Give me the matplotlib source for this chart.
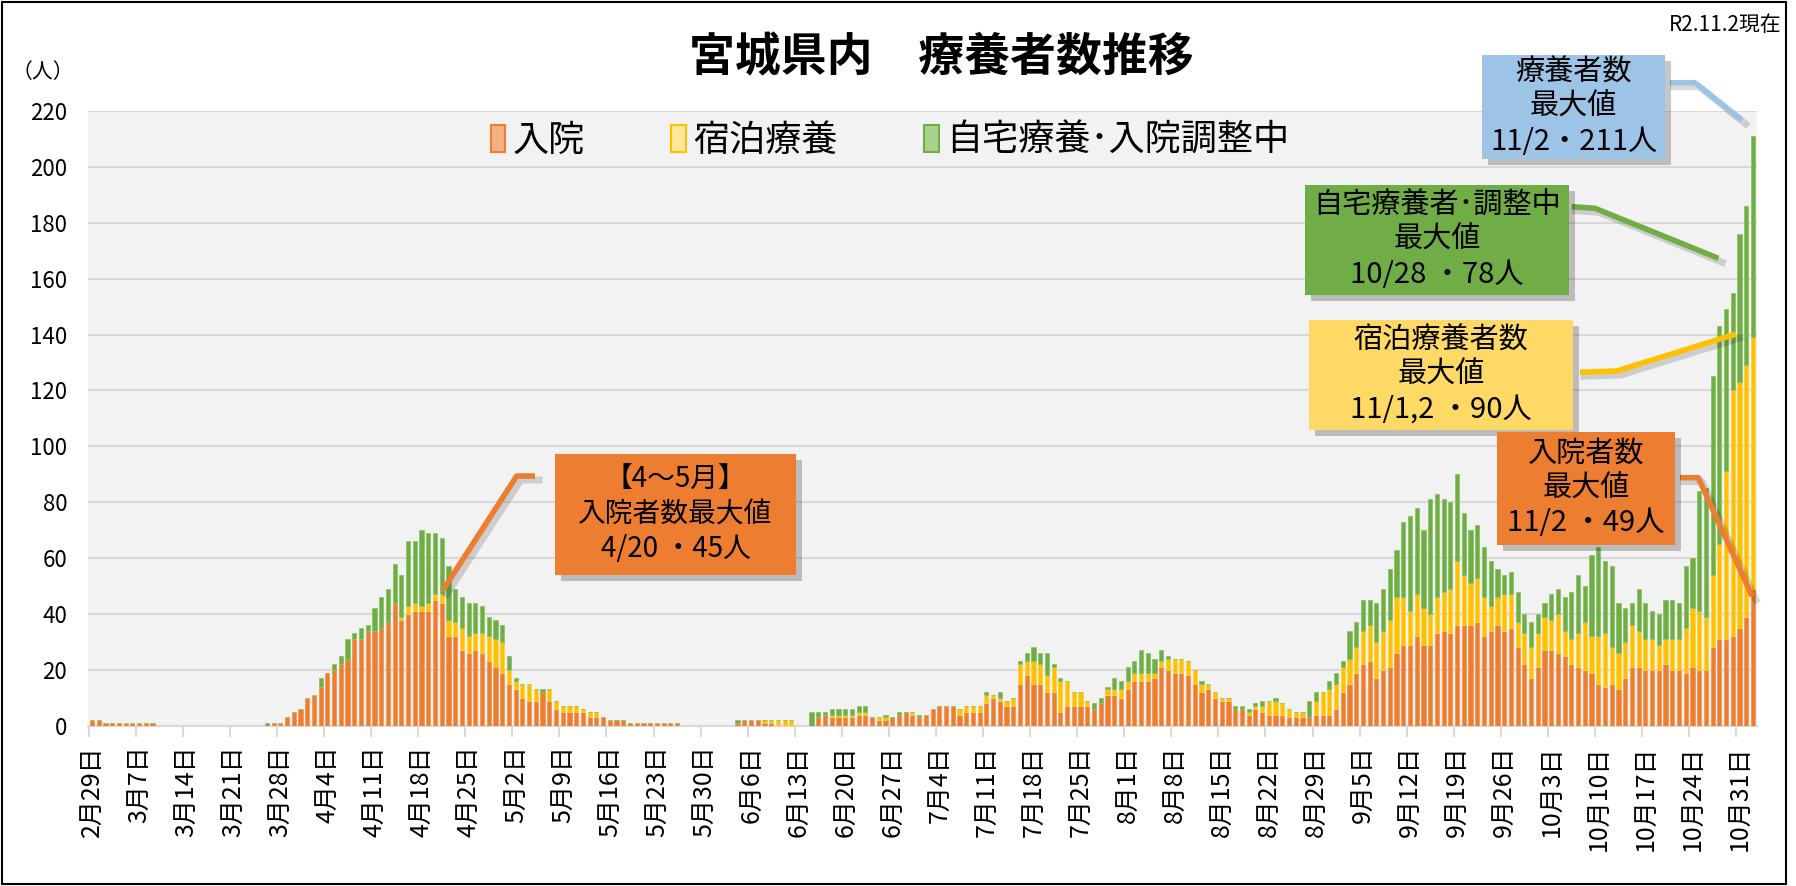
import numpy as np
import pandas as pd
import matplotlib
matplotlib.use("Agg")
import matplotlib.pyplot as plt
import matplotlib.patches as patches

plt.rcParams['font.family'] = ['Noto Sans CJK JP', 'DejaVu Sans']

# 日付: 2020/2/29 ～ 11/2 (日次)
dates = pd.date_range("2020-02-29", "2020-11-02", freq="D")

# 入院 (月ごと)
nyuin = (
    [2] +
    [2, 1, 1, 1, 1, 1, 1, 1, 1] + [0] * 17 + [1, 1, 3, 5, 6] +
    [10, 11, 14, 19, 20, 22, 24, 31, 31, 34, 34, 35, 37, 44, 38, 40, 41, 41, 41, 45,
     44, 32, 32, 27, 26, 27, 26, 23, 21, 19] +
    [15, 13, 10, 9, 9, 12, 9, 6, 5, 5, 5, 5, 3, 3, 3, 2, 2, 2] + [1] * 8 + [0] * 5 +
    [0, 0, 0, 1, 2, 2, 2, 1, 1, 0, 0, 0, 0, 0, 0, 3, 4, 3, 3, 3, 3, 4, 4, 3, 2, 2, 3, 4, 5, 4] +
    [3, 4, 6, 7, 7, 7, 4, 5, 5, 5, 8, 10, 9, 7, 7, 15, 18, 15, 15, 12, 12, 5, 7, 7, 7, 7,
     6, 8, 11, 11, 10] +
    [13, 16, 16, 16, 17, 21, 20, 19, 19, 18, 15, 12, 13, 10, 9, 9, 6, 6, 4, 6, 5, 4, 4, 4,
     3, 3, 3, 3, 4, 4, 4] +
    [6, 12, 15, 19, 22, 23, 17, 20, 21, 26, 29, 29, 32, 29, 29, 33, 34, 33, 36, 36, 36, 37,
     32, 34, 36, 34, 35, 28, 22, 17] +
    [21, 27, 27, 26, 25, 22, 21, 20, 19, 15, 14, 15, 13, 17, 21, 21, 20, 20, 20, 22, 20, 20,
     19, 21, 20, 20, 28, 31, 31, 32, 35] +
    [39, 49]
)

# 宿泊療養
shukuhaku = (
    [0] +
    [0] * 31 +
    [0] * 14 + [1, 3, 3, 2, 3, 2, 3, 6, 5, 8, 6, 6, 7, 9, 10, 11] +
    [5, 3, 5, 6, 4, 0, 4, 3, 2, 2, 2, 1, 2, 2] + [0] * 17 +
    [0] * 7 + [1, 1, 2, 2, 2] + [0] * 5 + [1, 1, 1, 1, 1, 1, 0, 1, 1, 0, 0, 0, 1] +
    [0] * 6 + [2, 2, 2, 2, 3, 1, 1, 2, 3, 7, 5, 8, 7, 6, 9, 11, 9, 5, 5, 2, 0, 0, 2, 2, 3] +
    [3, 3, 3, 3, 2, 2, 4, 5, 5, 5, 5, 3, 2, 2, 1, 1, 0, 0, 1, 1, 2, 5, 5, 4, 3, 2, 2, 0,
     5, 8, 9] +
    [9, 9, 9, 9, 12, 13, 13, 14, 17, 20, 17, 12, 15, 13, 11, 13, 14, 16, 23, 18, 15, 16,
     14, 9, 10, 13, 12, 9, 11, 11] +
    [12, 12, 11, 14, 9, 9, 12, 17, 13, 17, 19, 13, 13, 13, 15, 13, 11, 11, 9, 9, 11, 11,
     16, 21, 21, 19, 26, 34, 60, 88, 88] +
    [90, 90]
)

# 自宅療養・入院調整中
jitaku = (
    [0] +
    [0] * 25 + [1] + [0] * 5 +
    [0, 0, 3, 0, 2, 3, 7, 2, 4, 2, 8, 11, 12, 14, 15, 23, 22, 27, 25, 22, 20, 19, 12, 11,
     12, 11, 10, 7, 7, 6] +
    [5, 1, 0, 0, 0, 1] + [0] * 25 +
    [0, 0, 0, 1] + [0] * 10 + [5, 2, 1, 2, 2, 2, 2, 2, 2, 0, 0, 1, 0, 1, 0, 0] +
    [1] + [0] * 9 + [1, 0, 2, 0, 0, 1, 3, 5, 4, 8, 1, 1] + [0] * 4 + [2, 2, 1, 4, 3] +
    [5, 4, 8, 7, 5, 4, 1, 0, 0, 0, 0, 1, 0, 0, 0, 0, 1, 1, 1, 1, 2, 0, 1, 0, 0, 0, 0, 6,
     3, 0, 3] +
    [4, 2, 10, 9, 11, 9, 14, 15, 18, 17, 27, 34, 31, 28, 41, 37, 33, 31, 31, 22, 19, 19,
     18, 16, 10, 7, 8, 11, 7, 9] +
    [7, 5, 9, 9, 12, 17, 21, 13, 29, 32, 26, 29, 18, 12, 8, 15, 13, 10, 11, 14, 14, 13,
     22, 18, 43, 46, 71, 78, 58, 35, 53] +
    [57, 72]
)

series_names = ["入院", "宿泊療養", "自宅療養･入院調整中"]
series_colors = ["#ED7D31", "#FFC000", "#70AD47"]
legend_fill = ["#F4B183", "#FFE699", "#A9D18E"]
y_ticks = list(range(0, 221, 20))

W, H = 1796, 886
fig = plt.figure(figsize=(W / 100, H / 100), dpi=100)
fig.patch.set_facecolor("white")


def fp(x, y):
    # ピクセル座標 -> figure座標
    return x / W, 1 - y / H


ax = fig.add_axes([88 / W, 1 - 725.7 / H, (1757 - 88) / W, (725.7 - 111) / H])
ax.set_facecolor("#F2F2F2")

x = np.arange(len(dates))
n = np.array(nyuin)
s = np.array(shukuhaku)
j = np.array(jitaku)
bw = 0.62
ax.bar(x, n, width=bw, color=series_colors[0], edgecolor="#F29A5E", linewidth=0.6, zorder=3)
ax.bar(x, s, bottom=n, width=bw, color=series_colors[1], edgecolor="#FFD34D", linewidth=0.6, zorder=3)
ax.bar(x, j, bottom=n + s, width=bw, color=series_colors[2], edgecolor="#8CC46A", linewidth=0.6, zorder=3)

ax.set_xlim(-0.6, len(dates) - 0.4)
ax.set_ylim(0, 220)
ax.set_yticks(y_ticks)
ax.tick_params(axis="y", length=0, pad=15, labelsize=16)
ax.grid(axis="y", color="#D9D9D9", linewidth=1.5, zorder=0)
ax.set_axisbelow(True)

tick_idx = np.arange(0, len(dates), 7)
ax.set_xticks(tick_idx)
ax.set_xticklabels([f"{d.month}月{d.day}日" for d in dates[tick_idx]], rotation=90, fontsize=18)
ax.set_xticks(tick_idx - 0.5, minor=True)
ax.tick_params(axis="x", which="major", length=0, pad=14)
ax.tick_params(axis="x", which="minor", length=8, width=1.5, color="#D9D9D9")

for sp in ["top", "right", "left"]:
    ax.spines[sp].set_visible(False)
ax.spines["bottom"].set_color("#D9D9D9")
ax.spines["bottom"].set_linewidth(1.5)

# 凡例
handles = [patches.Rectangle((0, 0), 1, 1, facecolor=legend_fill[i], edgecolor=series_colors[i], linewidth=1.5)
           for i in range(3)]
ax.legend(handles, series_names, loc="center", bbox_to_anchor=((890 - 88) / 1669, (725.7 - 141) / 614.7),
          ncol=3, frameon=False, fontsize=26, handlelength=0.4, handleheight=0.8,
          handletextpad=0.2, columnspacing=2.4)

# タイトルなど
fig.text(*fp(941, 58), "宮城県内　療養者数推移", fontsize=33, fontweight="bold", ha="center", va="center")
fig.text(*fp(1782, 25), "R2.11.2現在", fontsize=15, ha="right", va="center")
fig.text(*fp(43, 72), "（人）", fontsize=15, ha="center", va="center")

# 外枠
fig.add_artist(patches.Rectangle(fp(2, 884), 1784 / W, 882 / H, transform=fig.transFigure,
                                 fill=False, edgecolor="black", linewidth=1.5))


def callout(box, text, color, fs, line_pts, line_color):
    x0, y0, x1, y1 = box
    # 引出線 (影つき)
    xs = [p[0] / W for p in line_pts]
    ys = [1 - p[1] / H for p in line_pts]
    fig.add_artist(plt.Line2D([v + 4 / W for v in xs], [v - 4 / H for v in ys], color="black",
                              alpha=0.15, linewidth=5, transform=fig.transFigure, zorder=5))
    fig.add_artist(plt.Line2D(xs, ys, color=line_color, linewidth=4, transform=fig.transFigure,
                              zorder=6, solid_capstyle="butt"))
    # 影
    fig.add_artist(patches.Rectangle(fp(x0 + 6, y1 + 6), (x1 - x0) / W, (y1 - y0) / H,
                                     transform=fig.transFigure, facecolor="black", alpha=0.22,
                                     edgecolor="none", zorder=6))
    fig.add_artist(patches.Rectangle(fp(x0, y1), (x1 - x0) / W, (y1 - y0) / H,
                                     transform=fig.transFigure, facecolor=color,
                                     edgecolor="none", zorder=7))
    fig.text(*fp((x0 + x1) / 2, (y0 + y1) / 2), text, fontsize=fs, ha="center", va="center",
             linespacing=1.2, zorder=8)


callout((555, 454, 796, 575), "【4～5月】\n入院者数最大値\n4/20 ・45人", "#ED7D31", 20,
        [(443, 590), (516.7, 476), (535, 476)], "#ED7D31")
callout((1482, 55, 1665, 159), "療養者数\n最大値\n11/2・211人", "#9DC3E6", 21,
        [(1670, 82.7), (1695, 82.7), (1741.7, 120)], "#9DC3E6")
callout((1305, 185, 1569, 295), "自宅療養者･調整中\n最大値\n10/28 ・78人", "#70AD47", 21,
        [(1571.7, 206.7), (1595, 208.3), (1718.3, 258.3)], "#70AD47")
callout((1309, 320, 1573, 430), "宿泊療養者数\n最大値\n11/1,2 ・90人", "#FFD966", 21,
        [(1580, 372.3), (1616.7, 371), (1736, 334)], "#FFC000")
callout((1497, 432, 1675, 545), "入院者数\n最大値\n11/2 ・49人", "#ED7D31", 21,
        [(1680, 477.7), (1698.3, 477.7), (1752, 596)], "#ED7D31")

fig.savefig("out.png", dpi=100)
